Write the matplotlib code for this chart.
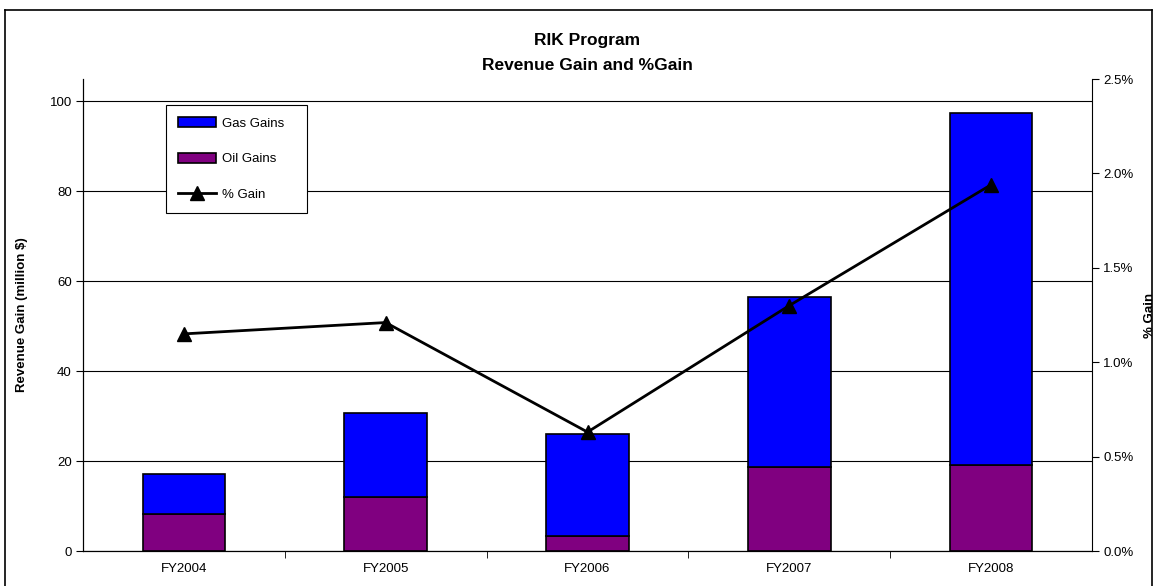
import matplotlib
matplotlib.use("Agg")
import matplotlib.pyplot as plt
from matplotlib.ticker import FuncFormatter, FixedLocator
from matplotlib.lines import Line2D
from matplotlib.patches import Patch
import numpy as np

plt.rcParams["font.family"] = ["Liberation Sans", "DejaVu Sans"]

# data
years = ["FY2004", "FY2005", "FY2006", "FY2007", "FY2008"]
oil_gains = [8.2, 12.0, 3.3, 18.7, 19.1]
gas_gains = [8.9, 18.7, 22.8, 37.7, 78.4]
pct_gain = [1.15, 1.21, 0.63, 1.30, 1.94]

BLUE = "#0000ff"
PURPLE = "#800080"
FS = 9.5

fig = plt.figure(figsize=(11.56, 5.86), dpi=100)
ax = fig.add_axes([83/1156, 35/586, 1009/1156, 472/586])
x = np.arange(len(years))
w = 0.41

ax.bar(x, oil_gains, w, color=PURPLE, edgecolor="black", linewidth=1.2, zorder=3)
ax.bar(x, gas_gains, w, bottom=oil_gains, color=BLUE, edgecolor="black",
       linewidth=1.2, zorder=3)

ax.set_xlim(-0.5, len(years) - 0.5)
ax.set_ylim(0, 105)
ax.set_yticks([0, 20, 40, 60, 80, 100])
ax.yaxis.grid(True, color="black", linewidth=0.8, zorder=0)
ax.set_axisbelow(True)
ax.set_xticks(x)
ax.set_xticklabels(years)
ax.xaxis.set_minor_locator(FixedLocator(np.arange(0.5, len(years) - 1, 1.0)))
ax.tick_params(axis="x", which="major", length=0, pad=9, labelsize=FS)
ax.tick_params(axis="x", which="minor", length=5, direction="out")
ax.tick_params(axis="y", length=5, direction="out", labelsize=FS, pad=3)
ax.set_ylabel("Revenue Gain (million $)", fontsize=FS, fontweight="bold")
ax.yaxis.set_label_coords((28 - 83) / 1009, 0.5)
ax.spines["top"].set_visible(False)
ax.spines["right"].set_visible(False)

ax2 = ax.twinx()
ax2.plot(x, pct_gain, color="black", linewidth=2, marker="^", markersize=10, zorder=5)
ax2.set_ylim(0, 2.5)
ax2.set_yticks([0, 0.5, 1.0, 1.5, 2.0, 2.5])
ax2.yaxis.set_major_formatter(FuncFormatter(lambda v, p: f"{v:.1f}%"))
ax2.tick_params(axis="y", length=5, direction="out", labelsize=FS, pad=3)
ax2.set_ylabel("% Gain", fontsize=FS, fontweight="bold", rotation=90)
ax2.yaxis.set_label_coords((1144 - 83) / 1009, 0.5)
ax2.spines["top"].set_visible(False)

handles = [
    Patch(facecolor=BLUE, edgecolor="black", linewidth=1.2),
    Patch(facecolor=PURPLE, edgecolor="black", linewidth=1.2),
    Line2D([], [], color="black", linewidth=2, marker="^", markersize=10),
]
leg = ax2.legend(handles, ["Gas Gains   ", "Oil Gains   ", "% Gain   "],
                 loc="upper left", bbox_to_anchor=(83 / 1009, (551 - 105) / 472),
                 fontsize=FS, frameon=True, fancybox=False, edgecolor="black",
                 framealpha=1, handlelength=2.9, handleheight=0.8,
                 labelspacing=1.75, borderpad=0.9, handletextpad=0.45,
                 borderaxespad=0)
leg.get_frame().set_linewidth(0.8)

fig.text(587/1156, 1 - 41/586, "RIK Program", ha="center", va="center",
         fontsize=12.5, fontweight="bold")
fig.text(587/1156, 1 - 65/586, "Revenue Gain and %Gain", ha="center", va="center",
         fontsize=12.5, fontweight="bold")

# outer frame
for xs, ys in [([5/1156, 5/1156], [0, 1 - 10/586]),
               ([5/1156, 1152/1156], [1 - 10/586, 1 - 10/586]),
               ([1152/1156, 1152/1156], [0, 1 - 10/586])]:
    fig.add_artist(Line2D(xs, ys, color="black", linewidth=1.2, transform=fig.transFigure))

fig.savefig("out.png", dpi=100)
